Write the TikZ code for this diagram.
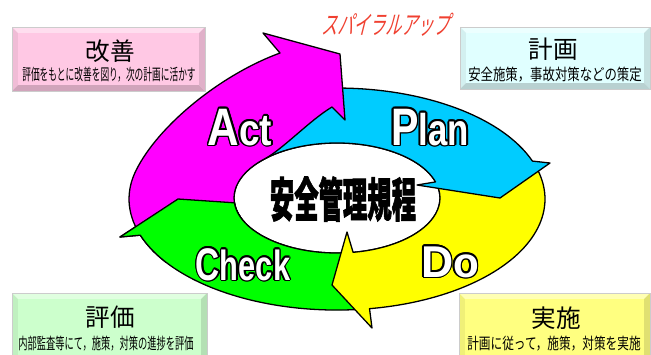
\documentclass[tikz,border=0pt]{standalone}
\usepackage{fontspec}
\usepackage{graphicx}
\setmainfont{Liberation Sans}
\newfontfamily\jp{Noto Sans CJK JP}
\newfontfamily\jpheavy[FakeBold=2]{Noto Sans CJK JP}

\definecolor{actmag}{RGB}{255,0,255}
\definecolor{plancyan}{RGB}{0,204,255}
\definecolor{doyellow}{RGB}{255,255,0}
\definecolor{checkgreen}{RGB}{0,255,0}
\definecolor{kaizenpink}{RGB}{255,200,228}
\definecolor{keikakucyan}{RGB}{224,255,255}
\definecolor{hyokagreen}{RGB}{204,255,204}
\definecolor{jisshiyellow}{RGB}{255,255,128}
\definecolor{spiralred}{RGB}{240,64,48}

% bevelled panel: colour, left, top, right, bottom
\newcommand{\bevelbox}[5]{%
  \fill[#1!60!white] (#2,#3) -- (#4,#3) -- (#4-6,#3+6) -- (#2+6,#3+6) -- cycle;
  \fill[#1!94!black] (#2,#3) -- (#2+6,#3+6) -- (#2+6,#5-6) -- (#2,#5) -- cycle;
  \fill[#1!88!black] (#4,#3) -- (#4,#5) -- (#4-6,#5-6) -- (#4-6,#3+6) -- cycle;
  \fill[#1!82!black] (#2,#5) -- (#4,#5) -- (#4-6,#5-6) -- (#2+6,#5-6) -- cycle;
  \fill[#1] (#2+6,#3+6) rectangle (#4-6,#5-6);
  \draw[gray!40, line width=0.4pt] (#2,#3) rectangle (#4,#5);
}

% white letters with a black rim
\newcommand{\hollow}[1]{%
  \foreach \ang in {0,30,...,330}{%
    \makebox[0pt][l]{\hspace{\fpeval{1.4*cosd(\ang)}pt}\raisebox{\fpeval{1.4*sind(\ang)}pt}{\color{black}#1}}}%
  {\color{white}#1}}

% the four arrows of the cycle
\newcommand{\checkarrow}{(362.3,309.2) arc[start angle=83, end angle=161, x radius=208, y radius=111]
  -- (120,237) -- (178,199) -- (234.4,202.8)
  arc[start angle=175, end angle=83, x radius=103, y radius=55] -- cycle}
\newcommand{\doarrow}{(537.9,170.3) arc[start angle=345, end angle=441, x radius=208, y radius=111]
  -- (372,328) -- (332,285) -- (347,232) -- (353.1,252.3)
  arc[start angle=81, end angle=-12, x radius=103, y radius=55] -- cycle}
\newcommand{\planarrow}{(329.7,88.1) arc[start angle=268, end angle=340, x radius=208, y radius=111]
  -- (550,163) -- (500,198) -- (417,185) -- (435.5,181.9)
  arc[start angle=343, end angle=220, x radius=103, y radius=55] -- cycle}
\newcommand{\actarrow}{(139.2,233.3) arc[start angle=162, end angle=195, x radius=208, y radius=111]
  .. controls (158,126) and (220,75) .. (280,53)
  -- (263,33) -- (340,54) -- (345,120) -- (332,107)
  .. controls (310,120) and (282,150) .. (264.2,159.1)
  arc[start angle=225, end angle=160, x radius=103, y radius=55] -- cycle}

\begin{document}
\begin{tikzpicture}[x=0.03cm, y=-0.03cm,
  ring/.style={draw=black, line width=1.1pt, line join=round},
  boxtitle/.style={font=\jp\fontsize{21}{21}\selectfont, inner sep=0pt},
  boxsub/.style={font=\jp\fontsize{13.6}{14}\selectfont, inner sep=0pt},
  pdca/.style={font=\bfseries, inner sep=0pt, anchor=base}]

  \useasboundingbox[fill=white] (0,0) rectangle (651,354);

  % panels
  \bevelbox{kaizenpink}{12}{27}{205}{91}
  \bevelbox{keikakucyan}{460}{27}{650}{89}
  \bevelbox{hyokagreen}{12}{293}{207}{362}
  \bevelbox{jisshiyellow}{459}{293}{650}{362}

  \node[boxtitle] (kaizen) at (110,51) {改善};
  \node[boxsub] (kaizen-sub) at (109,75) {\resizebox{5.2cm}{\height}{評価をもとに改善を図り，次の計画に活かす}};
  \node[boxtitle] (keikaku) at (553,49) {計画};
  \node[boxsub] (keikaku-sub) at (555,75) {\resizebox{5.2cm}{\height}{安全施策，事故対策などの策定}};
  \node[boxtitle] (hyoka) at (110,317) {評価};
  \node[boxsub] (hyoka-sub) at (106,344) {\resizebox{5.25cm}{\height}{内部監査等にて，施策，対策の進捗を評価}};
  \node[boxtitle] (jisshi) at (556,318) {実施};
  \node[boxsub] (jisshi-sub) at (554,344) {\resizebox{5.2cm}{\height}{計画に従って，施策，対策を実施}};

  % cycle
  \draw[ring, fill=white] (337,198) ellipse [x radius=103, y radius=55];
  \draw[ring, fill=checkgreen] \checkarrow;
  \draw[ring, fill=doyellow] \doarrow;
  \draw[ring, fill=plancyan] \planarrow;
  \draw[ring, fill=actmag] \actarrow;
  \begin{scope}
    \clip (100,190) rectangle (245,262);
    \draw[ring, fill=checkgreen] \checkarrow;
  \end{scope}

  \node[pdca] (act) at (240,145) {\hollow{\scalebox{0.83}[1]{\fontsize{45}{45}\selectfont A\fontsize{38}{38}\selectfont ct}}};
  \node[pdca] (plan) at (430,145) {\hollow{\scalebox{0.78}[1]{\fontsize{45}{45}\selectfont P\fontsize{38}{38}\selectfont lan}}};
  \node[pdca] (do) at (450,277) {\hollow{\scalebox{1}[1]{\fontsize{38}{38}\selectfont D\fontsize{36}{36}\selectfont o}}};
  \node[pdca] (check) at (243,280) {\hollow{\scalebox{0.73}[1]{\fontsize{39}{39}\selectfont C\fontsize{36}{36}\selectfont heck}}};

  \node[inner sep=0pt] (kitei) at (343,199) {\scalebox{0.52}[1]{\jpheavy\bfseries\fontsize{40}{40}\selectfont 安全管理規程}};

  \node[inner sep=0pt, xslant=0.25, text=spiralred] (spiral) at (388,25) {\scalebox{0.62}[1]{\jp\fontsize{22}{22}\selectfont スパイラルアップ}};

\end{tikzpicture}
\end{document}
